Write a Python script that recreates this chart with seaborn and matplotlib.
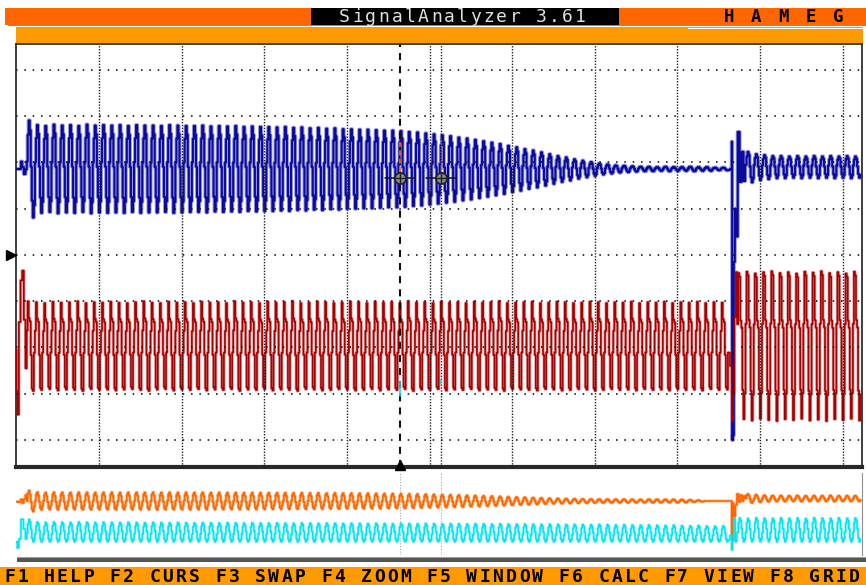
import numpy as np
import pandas as pd
import seaborn as sns
import matplotlib.pyplot as plt
from matplotlib.patches import Rectangle

W, H = 866, 585

# --- base de tiempo: 10 ciclos por division ---
PERIOD = 0.1
T_PRE = 0.13
CURSOR_T = [4.64, 5.14]
CURSOR_V = 5.66

# ---------------- canal azul (pantalla principal, divisiones) ----------------
BLUE_CENTER = 5.86
BLUE_LEAD_T = [0.00, 0.05, 0.06, 0.08, 0.10, 0.12]
BLUE_LEAD_V = [5.86, 5.86, 6.02, 5.90, 5.75, 5.85]
BLUE_AMP = [1.05, 0.95, 0.93, 0.96, 0.94, 0.95, 0.93, 0.96, 0.94, 0.95,
            0.94, 0.95, 0.93, 0.95, 0.94, 0.94, 0.93, 0.95, 0.94, 0.93,
            0.93, 0.94, 0.92, 0.93, 0.92, 0.93, 0.91, 0.92, 0.91, 0.91,
            0.90, 0.91, 0.89, 0.90, 0.88, 0.89, 0.87, 0.88, 0.86, 0.86,
            0.85, 0.85, 0.84, 0.83, 0.83, 0.82, 0.80, 0.79, 0.77, 0.75,
            0.73, 0.71, 0.68, 0.66, 0.63, 0.60, 0.57, 0.54, 0.50, 0.47,
            0.43, 0.40, 0.36, 0.32, 0.28, 0.25, 0.21, 0.18, 0.15, 0.12,
            0.10, 0.08, 0.07, 0.06, 0.05, 0.05, 0.04, 0.05, 0.04, 0.04,
            0.05, 0.04, 0.04, 0.03, 0.03]
BLUE_EVT_T = [8.655, 8.66, 8.665, 8.675, 8.69, 8.70, 8.72, 8.74, 8.765, 8.79, 8.81]
BLUE_EVT_V = [5.86, 6.45, 0.00, 0.10, 3.85, 5.00, 4.40, 6.66, 5.58, 6.23, 5.60]
BLUE_POST_T0 = 8.83
BLUE_POST_CENTER = 5.90
BLUE_POST_AMP = [0.33, 0.28, 0.26, 0.24, 0.24, 0.23, 0.24, 0.23, 0.24, 0.23,
                 0.24, 0.23, 0.24, 0.23]
BLUE_SHAPE = [0.15, 0.70, 1.00, 0.80, 0.05, -0.65, -1.00, -0.75]

# ---------------- canal rojo ----------------
RED_CENTER = 2.03
RED_LEAD_T = [0.00, 0.005, 0.02, 0.04, 0.06, 0.08, 0.10, 0.12]
RED_LEAD_V = [1.95, 1.05, 0.55, 2.55, 3.45, 3.66, 2.60, 1.55]
RED_AMP = [0.97, 0.95, 0.93, 0.96, 0.94, 0.95, 0.97, 0.93, 0.95, 0.94,
           0.96, 0.94, 0.93, 0.95, 0.97, 0.94, 0.93, 0.96, 0.94, 0.95,
           0.93, 0.96, 0.94, 0.95, 0.93, 0.97, 0.94, 0.95, 0.93, 0.96,
           0.94, 0.95, 0.97, 0.93, 0.94, 0.96, 0.95, 0.93, 0.94, 0.96,
           0.95, 0.93, 0.96, 0.94, 0.95, 0.93, 0.97, 0.94, 0.95, 0.93,
           0.96, 0.94, 0.95, 0.93, 0.96, 0.94, 0.95, 0.97, 0.93, 0.94,
           0.95, 0.96, 0.93, 0.94, 0.96, 0.95, 0.93, 0.94, 0.96, 0.95,
           0.93, 0.95, 0.94, 0.96, 0.93, 0.95, 0.94, 0.96, 0.93, 0.95,
           0.94, 0.96, 0.93, 0.95, 0.94]
RED_EVT_T = [8.655, 8.66, 8.665, 8.68, 8.70, 8.715]
RED_EVT_V = [1.60, 0.95, 0.40, 1.00, 2.66, 3.63]
RED_POST_T0 = 8.73
RED_POST_CENTER = 2.03
RED_POST_AMP = [1.58, 1.61, 1.57, 1.60, 1.62, 1.58, 1.60, 1.57, 1.61, 1.59,
                1.62, 1.58, 1.60, 1.57, 1.61]
RED_SHAPE = [0.35, 1.00, 0.62, 0.55, -0.20, -0.95, -1.00, -0.15]
RED_POST_SHAPE = [0.30, 1.00, 0.95, 0.35, 0.25, -0.60, -1.00, -0.65]

# ---------------- panel inferior: naranja ----------------
ORANGE_CENTER = 5.40
ORANGE_LEAD_T = [0.00, 0.04, 0.06, 0.08, 0.10, 0.12]
ORANGE_LEAD_V = [5.33, 5.30, 5.55, 5.20, 5.60, 6.00]
ORANGE_AMP = [1.05, 0.88, 0.85, 0.87, 0.86, 0.85, 0.87, 0.86, 0.85, 0.86,
              0.87, 0.85, 0.86, 0.86, 0.85, 0.87, 0.85, 0.86, 0.85, 0.86,
              0.85, 0.86, 0.84, 0.85, 0.84, 0.85, 0.83, 0.84, 0.83, 0.83,
              0.82, 0.83, 0.81, 0.82, 0.80, 0.81, 0.79, 0.80, 0.78, 0.78,
              0.77, 0.77, 0.76, 0.75, 0.74, 0.73, 0.71, 0.70, 0.68, 0.66,
              0.64, 0.62, 0.60, 0.57, 0.55, 0.52, 0.49, 0.46, 0.43, 0.40,
              0.37, 0.34, 0.31, 0.28, 0.26, 0.24, 0.22, 0.21, 0.20, 0.19,
              0.19, 0.18, 0.19, 0.18, 0.17, 0.18, 0.17, 0.16, 0.17, 0.15,
              0.12, 0.08, 0.00, 0.00, 0.00]
ORANGE_EVT_T = [8.655, 8.66, 8.67, 8.69, 8.71, 8.73, 8.75, 8.77, 8.79, 8.81]
ORANGE_EVT_V = [5.40, 0.70, 5.20, 3.85, 5.00, 6.10, 5.30, 6.00, 5.40, 5.90]
ORANGE_POST_T0 = 8.83
ORANGE_POST_CENTER = 5.65
ORANGE_POST_AMP = [0.45, 0.38, 0.33, 0.30, 0.30, 0.28, 0.30, 0.28, 0.29, 0.28,
                   0.30, 0.28, 0.29, 0.28]
ORANGE_SHAPE = [0.00, 0.75, 1.00, 0.60, -0.10, -0.80, -1.00, -0.55]

# ---------------- panel inferior: cian ----------------
CYAN_BOTTOM = 1.33
CYAN_LEAD_T = [0.00, 0.02, 0.04, 0.07, 0.10, 0.12]
CYAN_LEAD_V = [1.33, 0.70, 1.60, 3.57, 2.60, 1.60]
CYAN_TOP = [3.55, 3.30, 3.25, 3.30, 3.28, 3.25, 3.30, 3.27, 3.25, 3.28,
            3.26, 3.24, 3.27, 3.25, 3.22, 3.26, 3.24, 3.22, 3.25, 3.23,
            3.21, 3.24, 3.22, 3.20, 3.23, 3.21, 3.19, 3.22, 3.20, 3.18,
            3.21, 3.19, 3.17, 3.20, 3.18, 3.16, 3.19, 3.17, 3.15, 3.18,
            3.16, 3.14, 3.17, 3.15, 3.13, 3.16, 3.14, 3.12, 3.15, 3.13,
            3.11, 3.14, 3.12, 3.10, 3.13, 3.11, 3.09, 3.12, 3.10, 3.08,
            3.10, 3.08, 3.06, 3.09, 3.07, 3.05, 3.07, 3.05, 3.03, 3.06,
            3.04, 3.01, 3.03, 3.00, 2.98, 3.01, 2.97, 2.95, 2.98, 2.94,
            2.92, 2.95, 2.90, 2.88, 2.91]
CYAN_EVT_T = [8.655, 8.66, 8.67, 8.69, 8.71]
CYAN_EVT_V = [2.00, 0.50, 1.40, 3.70, 1.35]
CYAN_POST_T0 = 8.73
CYAN_POST_TOP = [3.70, 3.65, 3.72, 3.68, 3.66, 3.71, 3.67, 3.70, 3.65, 3.72,
                 3.68, 3.66, 3.71, 3.67, 3.70]
CYAN_SHAPE = [-0.20, 0.60, 1.00, 0.80, 0.10, -0.70, -1.00, -0.80]

# textos de la interfaz
TITLE = "SignalAnalyzer 3.61"
BRAND = "H A M E G"
FKEYS = "F1 HELP F2 CURS F3 SWAP F4 ZOOM F5 WINDOW F6 CALC F7 VIEW F8 GRID"


def cycles(t0, centers, amps, shape):
    # repite la forma de un ciclo con la amplitud leida para cada ciclo
    centers = np.broadcast_to(np.asarray(centers, dtype=float), (len(amps),))
    t, v = [], []
    n = len(shape)
    for k, a in enumerate(amps):
        for j, s in enumerate(shape):
            t.append(t0 + (k + j / n) * PERIOD)
            v.append(centers[k] + a * s)
    return t, v


def build(lead_t, lead_v, center, amps, shape, evt_t, evt_v, post_t0, post_center, post_amps, post_shape):
    t1, v1 = cycles(T_PRE, center, amps, shape)
    t2, v2 = cycles(post_t0, post_center, post_amps, post_shape)
    t = list(lead_t) + t1 + list(evt_t) + t2
    v = list(lead_v) + v1 + list(evt_v) + v2
    return pd.DataFrame({"t": t, "v": v})


def draw(ax, df, core, halo, lw_core, lw_halo):
    sns.lineplot(data=df, x="t", y="v", ax=ax, color=halo, linewidth=lw_halo,
                 sort=False, estimator=None, drawstyle="steps-mid", zorder=2)
    sns.lineplot(data=df, x="t", y="v", ax=ax, color=core, linewidth=lw_core,
                 sort=False, estimator=None, drawstyle="steps-mid", zorder=3)


def px_rect(x0, y0, x1, y1):
    return [x0 / W, 1 - y1 / H, (x1 - x0) / W, (y1 - y0) / H]


def box(fig, x0, y0, x1, y1, color, z=0):
    fig.add_artist(Rectangle((x0 / W, 1 - y1 / H), (x1 - x0) / W, (y1 - y0) / H,
                             transform=fig.transFigure, facecolor=color,
                             edgecolor="none", zorder=z))


def mono_text(fig, s, x_start, cell, y, **kw):
    # fuente de pantalla: un caracter por celda
    for i, ch in enumerate(s):
        if ch != " ":
            fig.text((x_start + cell * (i + 0.5)) / W, 1 - y / H, ch,
                     ha="center", va="center", **kw)


blue = build(BLUE_LEAD_T, BLUE_LEAD_V, BLUE_CENTER, BLUE_AMP, BLUE_SHAPE,
             BLUE_EVT_T, BLUE_EVT_V, BLUE_POST_T0, BLUE_POST_CENTER, BLUE_POST_AMP, BLUE_SHAPE)
red = build(RED_LEAD_T, RED_LEAD_V, RED_CENTER, RED_AMP, RED_SHAPE,
            RED_EVT_T, RED_EVT_V, RED_POST_T0, RED_POST_CENTER, RED_POST_AMP, RED_POST_SHAPE)
orange = build(ORANGE_LEAD_T, ORANGE_LEAD_V, ORANGE_CENTER, ORANGE_AMP, ORANGE_SHAPE,
               ORANGE_EVT_T, ORANGE_EVT_V, ORANGE_POST_T0, ORANGE_POST_CENTER, ORANGE_POST_AMP, ORANGE_SHAPE)
cyan_top = np.array(CYAN_TOP)
cyan_post = np.array(CYAN_POST_TOP)
cyan = build(CYAN_LEAD_T, CYAN_LEAD_V, (cyan_top + CYAN_BOTTOM) / 2, (cyan_top - CYAN_BOTTOM) / 2, CYAN_SHAPE,
             CYAN_EVT_T, CYAN_EVT_V, CYAN_POST_T0, (cyan_post + CYAN_BOTTOM) / 2,
             (cyan_post - CYAN_BOTTOM) / 2, CYAN_SHAPE)

sns.set_style("white")
plt.rcParams["font.family"] = ["DejaVu Sans Mono"]

fig = plt.figure(figsize=(W / 100, H / 100), dpi=100, facecolor="white")

# --- barra de titulo ---
box(fig, 5, 8, 866, 25, "#FF6600")
box(fig, 311, 8, 619, 25, "black")
box(fig, 8, 25, 866, 26, "#8c8c8c")
mono_text(fig, TITLE, 338, 13.1, 16.5, color="#e0e0e0", fontsize=13)
mono_text(fig, BRAND, 722, 13.65, 16.5, color="black", fontsize=12.5, fontweight="bold")

# --- barra naranja sobre la pantalla ---
box(fig, 16, 27, 863, 43, "#FF9900")
box(fig, 688, 27.5, 866, 29, "white", z=1)

# --- pantalla principal ---
XMAX = 10.234
ax = fig.add_axes(px_rect(16.4, 44, 862, 467))
draw(ax, blue, "#0a0a9c", "#9898e0", 1.5, 2.9)
draw(ax, red, "#a80000", "#e6a0a0", 1.2, 2.3)
ax.set_xlim(0, XMAX)
ax.set_ylim(-0.584, 8.562)

for t in range(1, 11):
    ax.axvline(t, color="#202020", lw=1.0, ls=(0, (1, 1.1)), zorder=5)
for v in range(0, 9):
    ax.axhline(v, color="#202020", lw=1.25, ls=(0, (0.9, 3.9)), zorder=5)

# cursores
ax.axvline(CURSOR_T[0], color="#111111", lw=1.5, ls=(0, (3.4, 2.9)), zorder=6)
ax.axvline(CURSOR_T[1], color="#222222", lw=1.0, ls=(0, (1, 1.1)), zorder=6)
ax.plot([CURSOR_T[0]] * 2, [5.79, 6.49], color="#FF6600", lw=1.2, ls=(0, (3, 2)), zorder=6)
ax.plot([CURSOR_T[1]] * 2, [5.79, 6.49], color="#FF6600", lw=1.0, ls=(0, (1, 1)), zorder=6)
ax.plot([CURSOR_T[0]] * 2, [0.95, 1.25], color="#00E5F0", lw=1.2, zorder=6)
ax.plot([CURSOR_T[1]] * 2, [1.2, 1.3], color="#00E5F0", lw=1.2, zorder=6)
for ct in CURSOR_T:
    ax.plot([ct - 0.18, ct + 0.18], [CURSOR_V, CURSOR_V], color="#111111", lw=1.1, zorder=7)
    ax.plot(ct, CURSOR_V, marker="o", ms=8, mfc="#8c8c8c", mec="#202020", mew=1.2, zorder=8)
    ax.plot(ct, CURSOR_V, marker="+", ms=8, color="#202020", mew=1.0, zorder=9)
ax.plot(CURSOR_T[0], -0.53, marker="^", ms=7, color="black", clip_on=False, zorder=9)
ax.plot(-0.065, 4.0, marker=">", ms=7, color="black", clip_on=False, zorder=9)

ax.set_xticks([])
ax.set_yticks([])
ax.set_xlabel("")
ax.set_ylabel("")
for side in ["left", "right", "top"]:
    ax.spines[side].set_color("#303030")
    ax.spines[side].set_linewidth(1.3)
ax.spines["bottom"].set_color("#282828")
ax.spines["bottom"].set_linewidth(3.0)

# --- panel inferior (vista completa) ---
ax2 = fig.add_axes(px_rect(16.4, 473, 862, 555))
for ct in CURSOR_T:
    ax2.axvline(ct, color="#a8a8a8", lw=0.8, ls=(0, (1, 1.5)), zorder=1)
draw(ax2, orange, "#FF6600", "#ffb27c", 1.1, 2.1)
draw(ax2, cyan, "#00E5F0", "#a8f8ff", 1.1, 2.1)
ax2.set_xlim(0, XMAX)
ax2.set_ylim(0, 8.2)
ax2.set_xticks([])
ax2.set_yticks([])
ax2.set_xlabel("")
ax2.set_ylabel("")
for side in ["left", "bottom", "top"]:
    ax2.spines[side].set_visible(False)
ax2.spines["right"].set_color("#909090")

box(fig, 17, 556.5, 866, 558, "#a0a0a0")
box(fig, 17, 558, 866, 562, "#555555")

# --- barra de teclas de funcion ---
box(fig, 0, 567, 866, 585, "#FF9900")
mono_text(fig, FKEYS, 3, 13.2, 577, color="black", fontsize=13, fontweight="bold")

fig.savefig("out.png", dpi=100)
